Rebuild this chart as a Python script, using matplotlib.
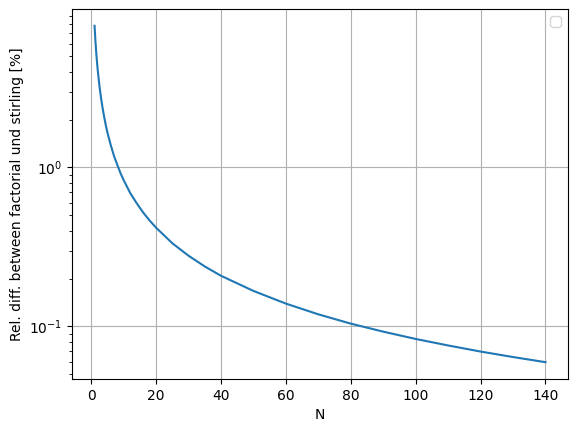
import matplotlib
matplotlib.use("Agg")
import matplotlib.pyplot as plt

# values
n_values = [1, 1.25, 1.5, 1.75, 2, 2.5, 3, 3.5, 4, 4.5, 5, 6, 7, 8, 9, 10, 12,
            14, 16, 18, 20, 25, 30, 35, 40, 50, 60, 70, 80, 90, 100, 110, 120,
            130, 140]
rel_diff = [7.79, 6.31, 5.33, 4.60, 4.05, 3.26, 2.73, 2.35, 2.06, 1.83, 1.65,
            1.38, 1.18, 1.04, 0.92, 0.83, 0.69, 0.595, 0.52, 0.463, 0.417,
            0.333, 0.278, 0.238, 0.208, 0.167, 0.139, 0.119, 0.104, 0.0926,
            0.0833, 0.0758, 0.0694, 0.0641, 0.0595]

fig = plt.figure(figsize=(5.78, 4.32), dpi=100)
fig.subplots_adjust(left=0.1246, right=0.9827, top=0.9792, bottom=0.1227)
ax = fig.add_subplot(111)
ax.plot(n_values, rel_diff)
ax.set_yscale("log")
ax.grid(True)
ax.set_xlabel("N")
ax.set_ylabel("Rel. diff. between factorial und stirling [%]")
ax.legend(handles=[])

fig.savefig("out.png", dpi=100)
